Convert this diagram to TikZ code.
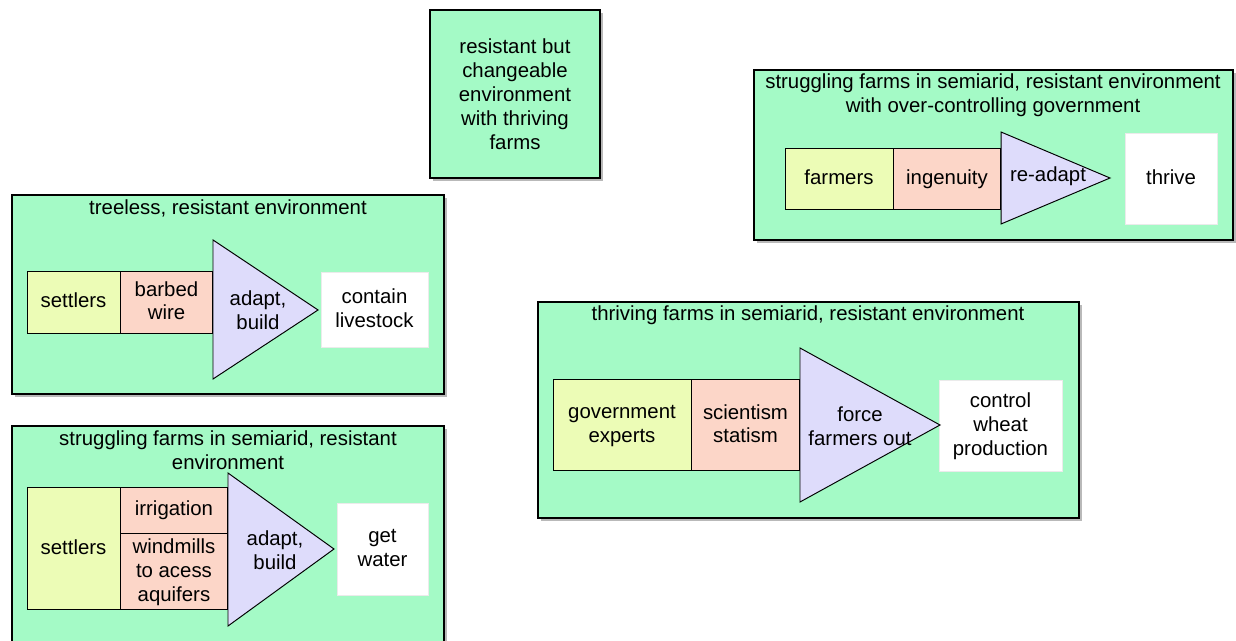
\documentclass[tikz,border=0pt]{standalone}
\usepackage{fontspec}
\setmainfont{Liberation Sans}
\usetikzlibrary{positioning, shadows}

\definecolor{envgreen}{RGB}{164,250,198}
\definecolor{whoyellow}{RGB}{236,252,182}
\definecolor{toolpink}{RGB}{252,214,200}
\definecolor{actlilac}{RGB}{222,220,251}

\begin{document}
\begin{tikzpicture}[x=0.02cm,y=-0.02cm,
	env/.style={draw, line width=0.7pt, fill=envgreen, inner sep=0pt, outer sep=0pt, anchor=north west, align=center,
		drop shadow={shadow xshift=1.8pt, shadow yshift=-1.8pt, fill=black!55, opacity=.5}},
	part/.style={draw, line width=0.55pt, inner sep=0pt, outer sep=0pt, align=center, text depth=1.6pt},
	who/.style={part, fill=whoyellow},
	tool/.style={part, fill=toolpink},
	act/.style={draw, line width=0.55pt, fill=actlilac, line join=miter},
	goal/.style={draw=black!8, fill=white, inner sep=0pt, outer sep=0pt, anchor=north west, align=center, text depth=1.6pt},
	txt/.style={align=center, inner sep=0pt}]
		\fontsize{11.6}{13.6}\selectfont
		\useasboundingbox (0,0) rectangle (1236,641);

		% top middle
		\node[env, minimum width=3.4cm, minimum height=3.36cm		] (ENV_CHANGE) at (430,10)	{resistant but\\changeable\\environment\\with thriving\\farms};

		% treeless
		\node[env, minimum width=8.64cm, minimum height=3.98cm		] (ENV_TREELESS) at (12,195)	{};
		\node[txt												] (T_TREELESS) at (228,208)	{treeless, resistant environment};
		\node[who, anchor=north west, minimum width=1.86cm, minimum height=1.24cm] (SETTLERS_A) at (27,271) {settlers};
		\node[tool, right=0pt of SETTLERS_A, minimum width=1.86cm, minimum height=1.24cm] (WIRE) {barbed\\wire};
		\node[goal, minimum width=2.14cm, minimum height=1.5cm		] (LIVESTOCK) at (321,272)	{contain\\livestock};
		\draw[act] (213,240) -- (318,310) -- (213,379) -- cycle;
		\node[txt												] (ADAPT_A) at (258,310)	{adapt,\\build};

		% struggling, water
		\node[env, minimum width=8.64cm, minimum height=4.48cm		] (ENV_SEMIARID) at (12,426)	{};
		\node[txt												] (T_SEMIARID) at (228,450)	{struggling farms in semiarid, resistant\\environment};
		\node[who, anchor=north west, minimum width=1.86cm, minimum height=2.46cm] (SETTLERS_B) at (27,487) {settlers};
		\node[tool, anchor=north west, minimum width=2.16cm, minimum height=0.92cm] (IRRIGATION) at (SETTLERS_B.north east) {irrigation};
		\node[tool, below=0pt of IRRIGATION, minimum width=2.16cm, minimum height=1.54cm] (WINDMILLS) {windmills\\to acess\\aquifers};
		\node[goal, minimum width=1.82cm, minimum height=1.84cm		] (WATER) at (337,503)	{get\\water};
		\draw[act] (228,473) -- (334,549) -- (228,626) -- cycle;
		\node[txt												] (ADAPT_B) at (275,550)	{adapt,\\build};

		% thriving
		\node[env, minimum width=10.82cm, minimum height=4.32cm		] (ENV_THRIVING) at (538,302)	{};
		\node[txt												] (T_THRIVING) at (808,315)	{thriving farms in semiarid, resistant environment};
		\node[who, anchor=north west, minimum width=2.76cm, minimum height=1.84cm] (EXPERTS) at (553,379) {government\\experts};
		\node[tool, right=0pt of EXPERTS, minimum width=2.18cm, minimum height=1.84cm] (STATISM) {scientism\\statism};
		\node[goal, minimum width=2.46cm, minimum height=1.82cm		] (WHEAT) at (939,380)	{control\\wheat\\production};
		\draw[act] (800,348) -- (940,425) -- (800,502) -- cycle;
		\node[txt												] (FORCE) at (860,426)	{force\\farmers out};

		% over-controlling
		\node[env, minimum width=9.58cm, minimum height=3.4cm		] (ENV_CONTROL) at (754,70)	{};
		\node[txt												] (T_CONTROL) at (993,95)	{struggling farms in semiarid, resistant environment\\with over-controlling government};
		\node[who, anchor=north west, minimum width=2.16cm, minimum height=1.22cm] (FARMERS) at (785,148) {farmers};
		\node[tool, right=0pt of FARMERS, minimum width=2.16cm, minimum height=1.22cm] (INGENUITY) {ingenuity};
		\node[goal, minimum width=1.84cm, minimum height=1.82cm		] (THRIVE) at (1125,133)	{thrive};
		\draw[act] (1001,132) -- (1110,178) -- (1001,224) -- cycle;
		\node[txt												] (READAPT) at (1048,176)	{re-adapt};

	\end{tikzpicture}
\end{document}
